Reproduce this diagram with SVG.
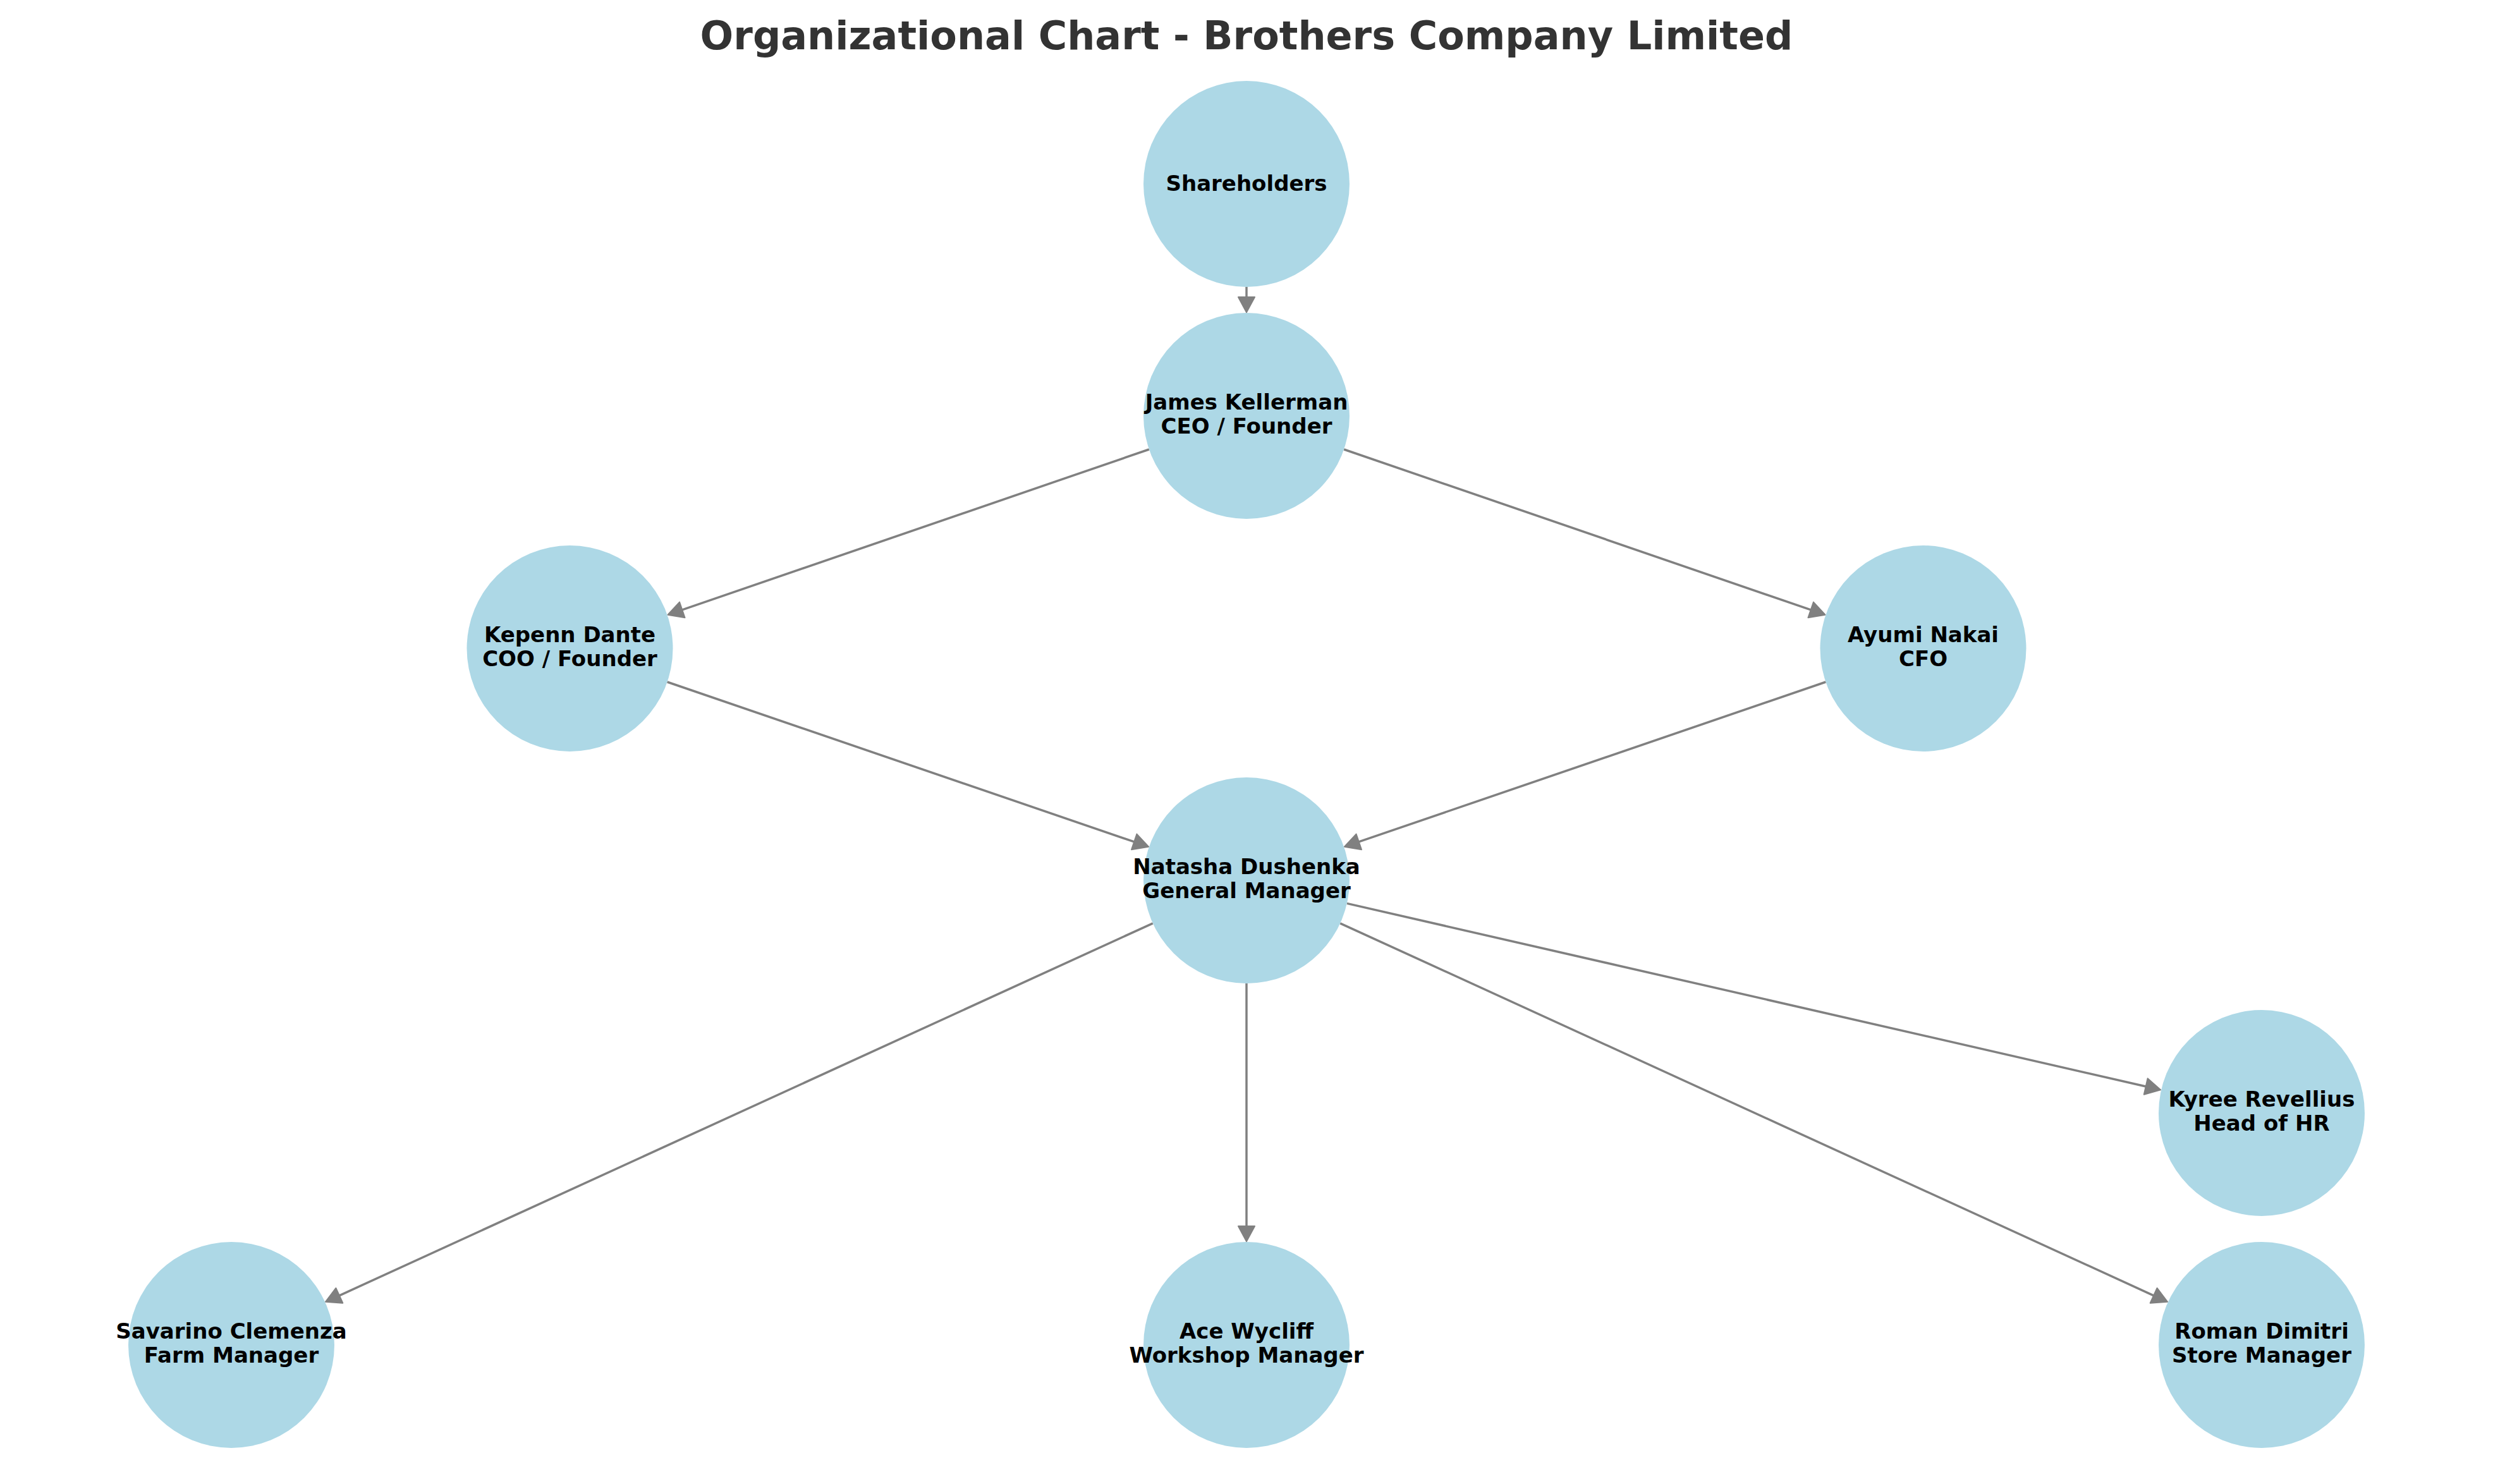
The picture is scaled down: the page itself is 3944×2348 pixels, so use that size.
<svg xmlns="http://www.w3.org/2000/svg" width="3944" height="2348" viewBox="0 0 3944 2348">
<style>
.node circle{fill:#ADD8E6;}
.node text{font-family:"DejaVu Sans",sans-serif;font-weight:bold;font-size:34px;fill:#000;text-anchor:middle;}
.title{font-family:"DejaVu Sans",sans-serif;font-weight:bold;font-size:62px;fill:#333333;text-anchor:middle;}
.edges line{stroke:#808080;stroke-width:3.5;fill:none;}
</style>
<defs>
<marker id="arr" markerUnits="userSpaceOnUse" markerWidth="30" markerHeight="30" refX="0" refY="13.5" orient="auto" viewBox="-2 -2 30 31" overflow="visible">
<path d="M0,0 L25,13.5 L0,27 z" fill="#808080" stroke="#808080" stroke-width="2" stroke-linejoin="round"/>
</marker>
</defs>
<rect width="3944" height="2348" fill="#fff"/>
<text class="title" x="1972" y="78">Organizational Chart - Brothers Company Limited</text>
<g class="edges">
<line x1="1972" y1="454" x2="1972" y2="470" marker-end="url(#arr)"/>
<line x1="1817.9" y1="711" x2="1079.3" y2="964.9" marker-end="url(#arr)"/>
<line x1="2126.1" y1="711" x2="2864.7" y2="964.9" marker-end="url(#arr)"/>
<line x1="1055.6" y1="1079" x2="1794.2" y2="1331.9" marker-end="url(#arr)"/>
<line x1="2888.4" y1="1079" x2="2149.8" y2="1331.9" marker-end="url(#arr)"/>
<line x1="1823.8" y1="1460.8" x2="536.9" y2="2049.8" marker-end="url(#arr)"/>
<line x1="1972" y1="1556" x2="1972" y2="1940" marker-end="url(#arr)"/>
<line x1="2120.2" y1="1460.8" x2="3407.1" y2="2049.8" marker-end="url(#arr)"/>
<line x1="2130.9" y1="1429.4" x2="3394.7" y2="1719" marker-end="url(#arr)"/>
</g>
<g id="shareholders" class="node"><circle cx="1972" cy="291" r="163"/><text x="1972" y="302">Shareholders</text></g>
<g id="james" class="node"><circle cx="1972" cy="658" r="163"/><text x="1972" y="648">James Kellerman</text><text x="1972" y="686">CEO / Founder</text></g>
<g id="kepenn" class="node"><circle cx="901.5" cy="1026" r="163"/><text x="901.5" y="1016">Kepenn Dante</text><text x="901.5" y="1054">COO / Founder</text></g>
<g id="ayumi" class="node"><circle cx="3042.5" cy="1026" r="163"/><text x="3042.5" y="1016">Ayumi Nakai</text><text x="3042.5" y="1054">CFO</text></g>
<g id="natasha" class="node"><circle cx="1972" cy="1393" r="163"/><text x="1972" y="1383">Natasha Dushenka</text><text x="1972" y="1421">General Manager</text></g>
<g id="kyree" class="node"><circle cx="3578" cy="1761" r="163"/><text x="3578" y="1751">Kyree Revellius</text><text x="3578" y="1789">Head of HR</text></g>
<g id="savarino" class="node"><circle cx="366" cy="2128" r="163"/><text x="366" y="2118">Savarino Clemenza</text><text x="366" y="2156">Farm Manager</text></g>
<g id="ace" class="node"><circle cx="1972" cy="2128" r="163"/><text x="1972" y="2118">Ace Wycliff</text><text x="1972" y="2156">Workshop Manager</text></g>
<g id="roman" class="node"><circle cx="3578" cy="2128" r="163"/><text x="3578" y="2118">Roman Dimitri</text><text x="3578" y="2156">Store Manager</text></g>
</svg>
